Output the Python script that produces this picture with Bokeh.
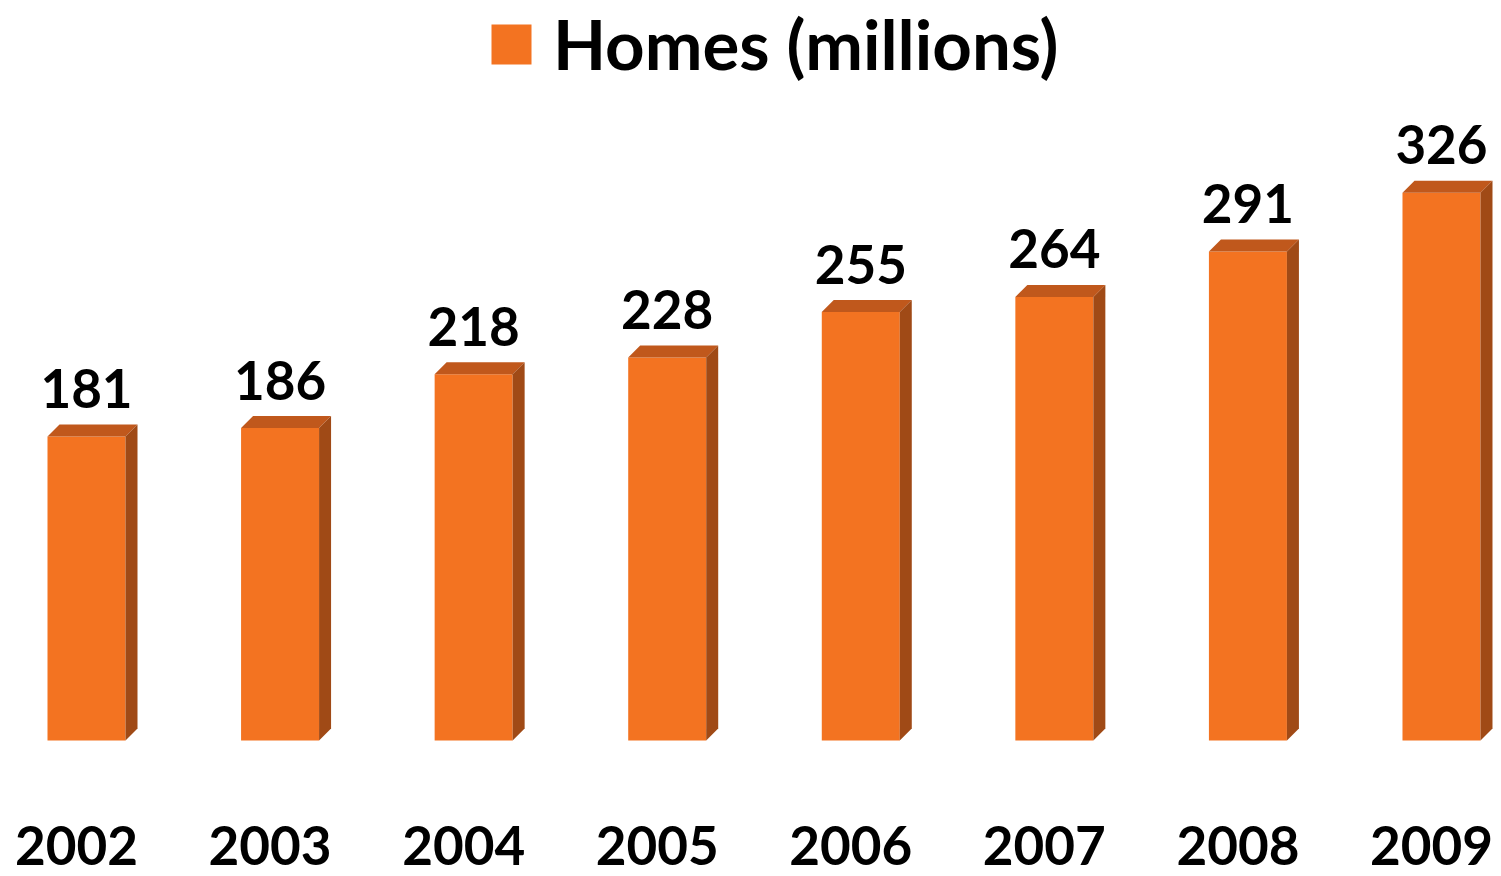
from bokeh.plotting import figure
from bokeh.models import Range1d, ColumnDataSource, Legend, LegendItem
from bokeh.core.properties import value
from bokeh.embed import file_html
from bokeh.resources import INLINE

# ---- data ----
years = ["2002", "2003", "2004", "2005", "2006", "2007", "2008", "2009"]
homes = [181, 186, 218, 228, 255, 264, 291, 326]
series_name = "Homes (millions)"

# ---- styling ----
FRONT = "#F37321"
TOP = "#C0581C"
SIDE = "#A04A16"
FONT = "Lato"

W, H = 1501, 876
PX_PER_CAT = 193.57        # pixels per category step
PX_PER_UNIT = 1.68         # pixels per value unit
X0_PX = 86                 # pixel position of first category centre
Y0_PX = 136                # pixel position (from bottom) of value 0

x_start = -X0_PX / PX_PER_CAT
x_end = (W - X0_PX) / PX_PER_CAT
y_start = -Y0_PX / PX_PER_UNIT
y_end = (H - Y0_PX) / PX_PER_UNIT

p = figure(width=W, height=H, output_backend="svg", toolbar_location=None,
           x_range=Range1d(x_start, x_end), y_range=Range1d(y_start, y_end),
           x_axis_location=None, y_axis_location=None, min_border=0,
           outline_line_color=None, background_fill_color="white",
           border_fill_color="white")
p.grid.visible = False

xs = list(range(len(years)))
half = 39 / PX_PER_CAT
dx = 12 / PX_PER_CAT
dy = 12 / PX_PER_UNIT

src = ColumnDataSource(dict(x=xs, year=years, homes=homes,
                            left=[x - half for x in xs],
                            right=[x + half for x in xs],
                            label=[str(v) for v in homes]))

front = p.quad(left="left", right="right", bottom=0, top="homes", source=src,
               fill_color=FRONT, line_color=None)

# top faces
top_xs = [[x - half, x + half, x + half + dx, x - half + dx] for x in xs]
top_ys = [[v, v, v + dy, v + dy] for v in homes]
p.patches(top_xs, top_ys, fill_color=TOP, line_color=None)

# side faces
side_xs = [[x + half, x + half + dx, x + half + dx, x + half] for x in xs]
side_ys = [[0, dy, v + dy, v] for v in homes]
p.patches(side_xs, side_ys, fill_color=SIDE, line_color=None)

# value labels
p.text(x="x", y="homes", text="label", source=src, text_align="center",
       text_baseline="alphabetic", y_offset=-48, text_color="black",
       text_font=value(FONT), text_font_style="bold", text_font_size="53px")

# category labels
p.text(x="x", y=0, text="year", source=src, text_align="center",
       text_baseline="alphabetic", x_offset=-10, y_offset=105,
       text_color="black", text_font=value(FONT), text_font_style="bold",
       text_font_size="53px")

legend = Legend(items=[LegendItem(label=series_name, renderers=[front])],
                location=(486, 791), orientation="horizontal",
                glyph_width=50, glyph_height=50, label_standoff=17,
                label_text_font=FONT, label_text_font_style="bold",
                label_text_font_size="69px", label_text_color="black",
                padding=0, margin=0, border_line_color=None,
                background_fill_alpha=0)
p.add_layout(legend)

open("out.html", "w").write(file_html(p, INLINE))
